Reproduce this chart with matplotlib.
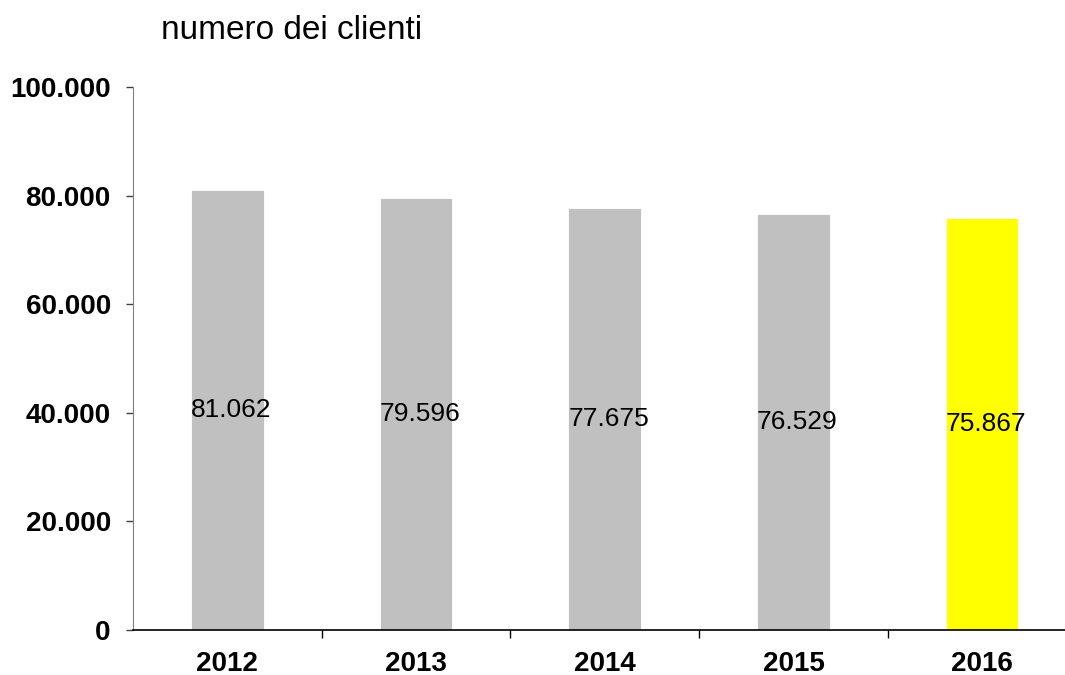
import matplotlib.pyplot as plt
from matplotlib.ticker import FuncFormatter, FixedLocator

# data
years = ['2012', '2013', '2014', '2015', '2016']
clients = [81062, 79596, 77675, 76529, 75867]
bar_colors = ['#C0C0C0', '#C0C0C0', '#C0C0C0', '#C0C0C0', '#FFFF00']
y_ticks = [0, 20000, 40000, 60000, 80000, 100000]


def dotted(v):
    return f"{int(v):,}".replace(",", ".")


plt.rcParams['font.family'] = ['Liberation Sans', 'DejaVu Sans']

fig = plt.figure(figsize=(10.65, 6.75), dpi=100)
ax = fig.add_axes([133 / 1065, 1 - 630 / 675, (1076.5 - 133) / 1065, (630 - 87) / 675])

x = list(range(len(years)))
bars = ax.bar(x, clients, width=0.385, color=bar_colors, edgecolor='white', linewidth=0.6)

# value labels in the middle of each bar
for xi, v in zip(x, clients):
    ax.text(xi + 0.02, v / 2, dotted(v), ha='center', va='center', fontsize=19, color='black')

ax.set_xlim(-0.5, len(years) - 0.5)
ax.set_ylim(0, 100000)
ax.set_yticks(y_ticks)
ax.yaxis.set_major_formatter(FuncFormatter(lambda v, p: dotted(v)))

ax.set_xticks(x)
ax.set_xticklabels(years)
ax.xaxis.set_minor_locator(FixedLocator([i + 0.5 for i in x[:-1]]))
ax.tick_params(axis='x', which='major', length=0, pad=15, labelsize=20)
ax.tick_params(axis='x', which='minor', length=6, width=1, color='black', direction='out')
ax.tick_params(axis='y', length=5, width=1, color='#404040', pad=11, labelsize=20)
for lab in ax.get_xticklabels() + ax.get_yticklabels():
    lab.set_fontweight('bold')

ax.spines['top'].set_visible(False)
ax.spines['right'].set_visible(False)
ax.spines['left'].set_color('#808080')
ax.spines['bottom'].set_color('black')
ax.spines['bottom'].set_linewidth(1.2)

fig.text(161 / 1065, 1 - 39 / 675, 'numero dei clienti', fontsize=24, ha='left', va='baseline')

fig.savefig('out.png', dpi=100)
